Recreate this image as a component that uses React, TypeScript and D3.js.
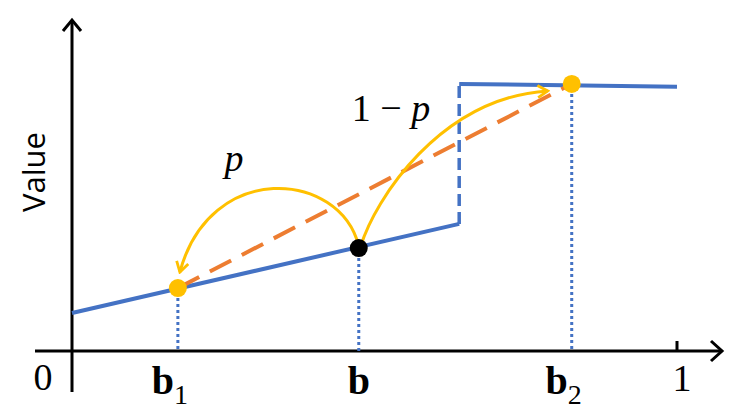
import React from "react";
import * as d3 from "d3";

// ---- data (domain units) ----
const lowerX = [0, 0.64];
const lowerY = [0.115, 0.384];
const upperX = [0.64, 1.0];
const upperY = [0.807, 0.798];
const pointNames = ["b1", "b", "b2"];
const pointX = [0.175, 0.474, 0.826];
const pointY = [0.19, 0.311, 0.807];
const pointColors = ["#FFC000", "#000000", "#FFC000"];
const tickLabels = ["0", "1"];

const W = 744;
const H = 414;

export default function App() {
  const x = d3.scaleLinear().domain([0, 1]).range([72, 677]);
  const y = d3.scaleLinear().domain([0, 1]).range([351, 20]);
  const line = d3.line<[number, number]>().x((d) => x(d[0])).y((d) => y(d[1]));

  const lower = lowerX.map((v, i) => [v, lowerY[i]] as [number, number]);
  const upper = upperX.map((v, i) => [v, upperY[i]] as [number, number]);
  const jump: [number, number][] = [
    [lowerX[1], lowerY[1]],
    [upperX[0], upperY[0]],
  ];
  const chord: [number, number][] = [
    [pointX[0], pointY[0]],
    [pointX[2], pointY[2]],
  ];

  const bx = x(pointX[1]), by = y(pointY[1]);
  const b1x = x(pointX[0]), b1y = y(pointY[0]);
  const b2x = x(pointX[2]), b2y = y(pointY[2]);

  const leftArc = d3.path();
  leftArc.moveTo(bx, by - 2);
  leftArc.bezierCurveTo(bx - 19, by - 78, b1x + 32, by - 88, b1x + 2, b1y - 16);
  const rightArc = d3.path();
  rightArc.moveTo(bx + 2, by - 2);
  rightArc.bezierCurveTo(bx + 16, by - 48, bx + 81, by - 150, b2x - 24, b2y + 7);

  const serif = "'Liberation Serif', 'Times New Roman', serif";
  const st = (size: number, extra: React.CSSProperties = {}): React.CSSProperties => ({
    fontFamily: serif,
    fontSize: `${size}px`,
    ...extra,
  });

  return (
    <svg
      width={W}
      height={H}
      style={{ position: "absolute", left: 0, top: 0, background: "#fff" }}
    >
      <defs>
        <marker
          id="yarrow"
          viewBox="0 0 14 14"
          refX="12"
          refY="7"
          markerWidth="14"
          markerHeight="14"
          markerUnits="userSpaceOnUse"
          orient="auto"
        >
          <path d="M2,1 L12,7 L2,13" fill="none" stroke="#FFC000" strokeWidth={2.8} />
        </marker>
      </defs>

      {/* axes */}
      <line x1={35} y1={y(0)} x2={721} y2={y(0)} stroke="#000" strokeWidth={3} />
      <path d={`M711,${y(0) - 10} L722,${y(0)} L711,${y(0) + 10}`} fill="none" stroke="#000" strokeWidth={3} />
      <line x1={x(0)} y1={392} x2={x(0)} y2={22} stroke="#000" strokeWidth={3} />
      <path d={`M${x(0) - 9},31 L${x(0)},20 L${x(0) + 9},31`} fill="none" stroke="#000" strokeWidth={3} />
      <line x1={x(1)} y1={y(0) - 10} x2={x(1)} y2={y(0)} stroke="#000" strokeWidth={3} />

      {/* tick labels */}
      <text x={43} y={390} style={st(38)} textAnchor="middle">{tickLabels[0]}</text>
      <text x={x(1) + 5} y={391} style={st(38)} textAnchor="middle">{tickLabels[1]}</text>

      {/* y label */}
      <text
        transform={`translate(45,172) rotate(-90)`}
        style={{ fontFamily: "'Open Sans', sans-serif", fontSize: "31px" }}
        textAnchor="middle"
      >
        Value
      </text>

      {/* dotted drop lines */}
      {pointX.map((px, i) => (
        <line
          key={"d" + i}
          x1={x(px)}
          x2={x(px)}
          y1={y(pointY[i]) + 4}
          y2={y(0)}
          stroke="#4472C4"
          strokeWidth={3}
          strokeDasharray="3,3"
        />
      ))}

      {/* value function */}
      <path d={line(lower) || ""} fill="none" stroke="#4472C4" strokeWidth={4} />
      <path d={line(jump) || ""} fill="none" stroke="#4472C4" strokeWidth={3.5} strokeDasharray="12,6" />
      <path d={line(upper) || ""} fill="none" stroke="#4472C4" strokeWidth={4} />

      {/* chord */}
      <path d={line(chord) || ""} fill="none" stroke="#ED7D31" strokeWidth={4} strokeDasharray="24,12" />

      {/* arcs */}
      <path d={leftArc.toString()} fill="none" stroke="#FFC000" strokeWidth={3} markerEnd="url(#yarrow)" />
      <path d={rightArc.toString()} fill="none" stroke="#FFC000" strokeWidth={3} markerEnd="url(#yarrow)" />

      {/* points */}
      {pointX.map((px, i) => (
        <circle key={"p" + i} cx={x(px)} cy={y(pointY[i])} r={9} fill={pointColors[i]} />
      ))}

      {/* point labels */}
      {pointNames.map((n, i) => (
        <text
          key={"l" + i}
          x={x(pointX[i]) - (n.length > 1 ? 8 : 0)}
          y={394}
          style={st(40, { fontWeight: "bold" })}
          textAnchor="middle"
        >
          b
          {n.length > 1 && (
            <tspan style={{ fontWeight: "normal", fontSize: "28px" }} dy={10}>{n.slice(1)}</tspan>
          )}
        </text>
      ))}

      {/* probability labels */}
      <text x={234} y={171} style={st(38, { fontStyle: "italic" })} textAnchor="middle">p</text>
      <text x={391} y={121} style={st(38)} textAnchor="middle">
        1 − <tspan style={{ fontStyle: "italic" }}>p</tspan>
      </text>
    </svg>
  );
}
